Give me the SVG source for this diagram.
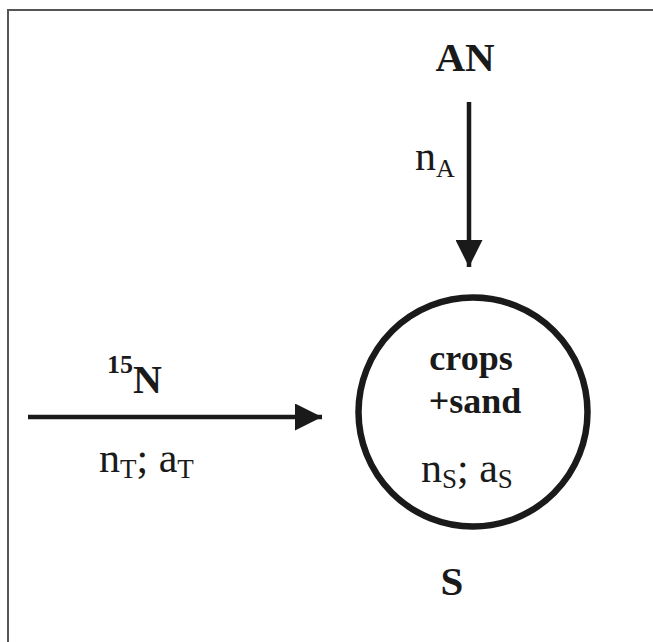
<svg xmlns="http://www.w3.org/2000/svg" width="653" height="642" viewBox="0 0 653 642">
<style>
.b{font-family:"Liberation Serif","Times New Roman",serif;font-weight:bold;fill:#1a1a1a}
.r{font-family:"Liberation Serif","Times New Roman",serif;fill:#1a1a1a}
.edge{stroke:#1a1a1a;stroke-width:4.5;fill:none}
</style>
<defs>
<marker id="ah" markerWidth="6" markerHeight="6" refX="6" refY="3" orient="auto" markerUnits="strokeWidth">
<path d="M0,0 L6,3 L0,6 Z" fill="#1a1a1a"/>
</marker>
</defs>
<rect x="0" y="0" width="653" height="642" fill="#ffffff"/>
<rect x="8" y="10" width="700" height="700" fill="none" stroke="#555" stroke-width="2"/>
<g id="connectors">
<line class="edge" x1="469" y1="102" x2="469" y2="267" marker-end="url(#ah)"/>
<line class="edge" x1="28" y1="417" x2="322" y2="417" marker-end="url(#ah)"/>
</g>
<g id="AN">
<text class="b" x="465" y="71" font-size="41" text-anchor="middle">AN</text>
</g>
<g id="nA">
<text class="r" x="415" y="170" font-size="42">n<tspan font-size="26" dy="7">A</tspan></text>
</g>
<g id="N15">
<text class="b" x="107" y="373" font-size="26">15<tspan font-size="40" dy="20">N</tspan></text>
</g>
<g id="nTaT">
<text class="r" x="99" y="472" font-size="42">n<tspan font-size="27" dy="6">T</tspan><tspan dy="-6">; a</tspan><tspan font-size="27" dy="6">T</tspan></text>
</g>
<g id="S-node">
<circle cx="473" cy="412" r="114.5" fill="none" stroke="#1a1a1a" stroke-width="6.5"/>
<text class="b" x="471" y="370" font-size="36" text-anchor="middle">crops</text>
<text class="b" x="475" y="413" font-size="36" text-anchor="middle">+sand</text>
<text class="r" x="421" y="482" font-size="42">n<tspan font-size="27" dy="6">S</tspan><tspan dy="-6">; a</tspan><tspan font-size="27" dy="6">S</tspan></text>
</g>
<g id="S">
<text class="b" x="452" y="595" font-size="41" text-anchor="middle">S</text>
</g>
</svg>
